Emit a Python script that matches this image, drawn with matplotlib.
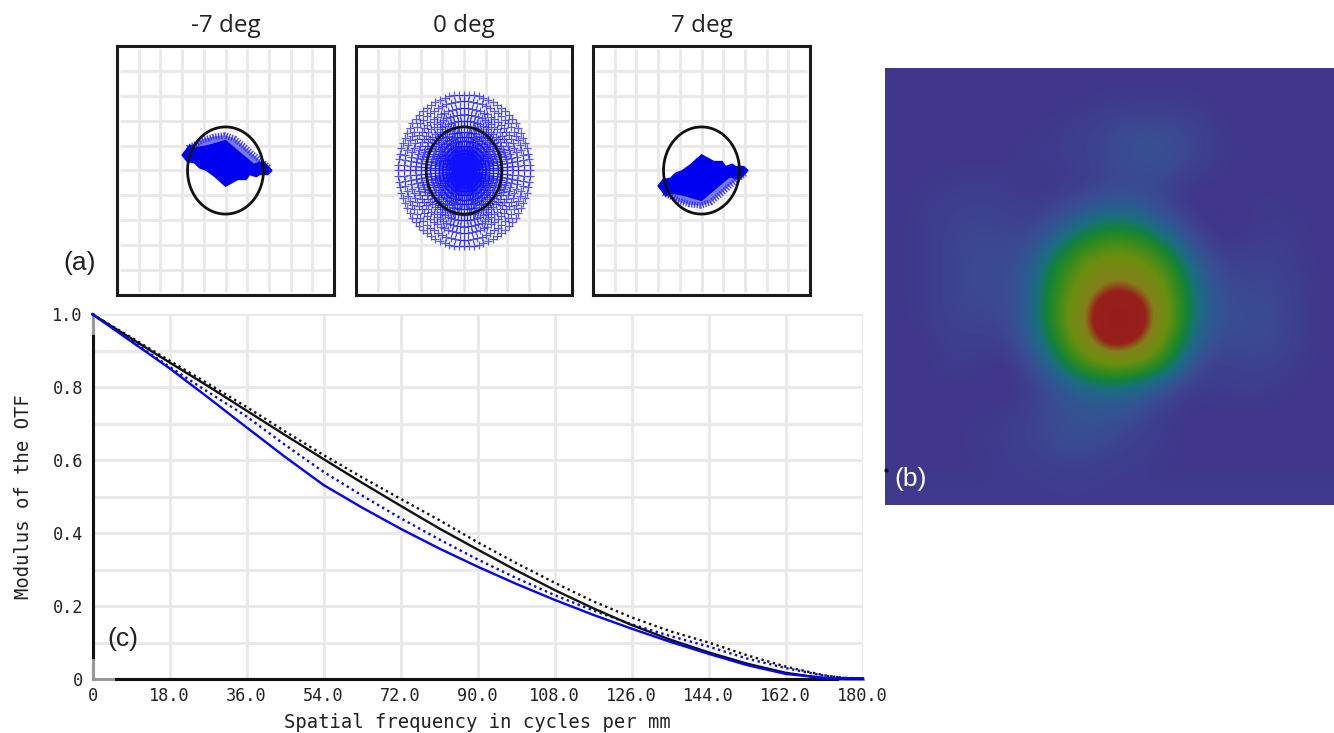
import numpy as np
import matplotlib
matplotlib.use("Agg")
import matplotlib.pyplot as plt
from matplotlib.colors import LinearSegmentedColormap

W, H = 1334, 733

# spot diagrams, units are grid cells
panel_titles = ["-7 deg", "0 deg", "7 deg"]
panel_boxes = [(117, 46, 334, 295), (356, 46, 572, 295), (593, 46, 810, 295)]
panel_flip = [1, 1, -1]
grid_pos = [-4, -3, -2, -1, 0, 1, 2, 3, 4]
airy_radius = 1.75
blob_x = [-2.0, -1.65, -1.41, -0.8, 0, 0.65, 1.3, 1.75, 2.14, 1.95, 1.57, 1.42, 1.11, 0.95, 0.57, 0, -0.51, -0.89, -1.2, -1.43, -1.78]
blob_y = [0.62, 1.02, 0.9, 1.0, 1.2, 0.72, 0.25, 0.36, 0, -0.16, -0.16, -0.25, -0.16, -0.36, -0.36, -0.63, -0.23, 0.01, 0.11, 0.31, 0.37]
halo_x = [-1.65, -1.41, -1.03, -0.57, -0.03, 0.43, 0.81, 1.27, 1.73, 1.3, 0.65, 0, -0.8, -1.41]
halo_y = [1.02, 1.1, 1.26, 1.37, 1.42, 1.28, 1.0, 0.64, 0.31, 0.25, 0.72, 1.2, 1.0, 0.9]
comb_outer_x = [-1.75, -1.41, -1.03, -0.57, -0.03, 0.43, 0.81, 1.27, 1.73, 2.0]
comb_outer_y = [0.9, 1.04, 1.22, 1.35, 1.41, 1.27, 1.0, 0.64, 0.31, 0.12]
ring_radii = [3.05, 2.78, 2.5, 2.25, 2.0, 1.78, 1.56, 1.36, 1.18, 1.0, 0.84, 0.7, 0.56, 0.43, 0.3, 0.18, 0.08]
ring_spokes = 84

# MTF curves
freq = [0, 9, 18, 27, 36, 45, 54, 63, 72, 81, 90, 99, 108, 117, 126, 135, 144, 153, 162, 171, 176, 180]
black_dotted = [1, 0.937, 0.873, 0.81, 0.746, 0.679, 0.614, 0.553, 0.494, 0.436, 0.375, 0.318, 0.264, 0.213, 0.169, 0.131, 0.1, 0.065, 0.034, 0.01, 0.002, 0]
black_solid = [1, 0.934, 0.868, 0.803, 0.736, 0.669, 0.603, 0.538, 0.475, 0.413, 0.355, 0.298, 0.244, 0.194, 0.148, 0.108, 0.073, 0.042, 0.017, 0.002, 0, 0]
blue_dotted = [1, 0.928, 0.856, 0.787, 0.72, 0.642, 0.568, 0.503, 0.441, 0.383, 0.328, 0.277, 0.23, 0.188, 0.15, 0.118, 0.089, 0.056, 0.03, 0.009, 0.003, 0.002]
blue_solid = [1, 0.926, 0.852, 0.772, 0.69, 0.609, 0.532, 0.47, 0.412, 0.358, 0.308, 0.261, 0.217, 0.176, 0.138, 0.102, 0.069, 0.038, 0.014, 0.003, 0.002, 0.002]
x_ticks = [0, 18, 36, 54, 72, 90, 108, 126, 144, 162, 180]
x_labels = ["0", "18.0", "36.0", "54.0", "72.0", "90.0", "108.0", "126.0", "144.0", "162.0", "180.0"]
y_ticks = [0, 0.2, 0.4, 0.6, 0.8, 1.0]
y_labels = ["0", "0.2", "0.4", "0.6", "0.8", "1.0"]

# intensity map, rough values
intensity = [
    [.02, .02, .02, .02, .02, .02, .02, .02, .02, .02, .02, .02, .02, .02, .02, .02, .02],
    [.02, .02, .02, .02, .02, .02, .02, .02, .03, .03, .03, .03, .02, .02, .02, .02, .02],
    [.02, .02, .02, .02, .02, .02, .03, .04, .06, .08, .08, .06, .03, .02, .02, .02, .02],
    [.02, .02, .02, .02, .02, .03, .03, .04, .06, .09, .09, .06, .03, .02, .02, .02, .02],
    [.02, .02, .03, .03, .03, .02, .02, .03, .05, .06, .05, .02, .02, .02, .02, .02, .02],
    [.02, .03, .04, .05, .04, .03, .05, .09, .13, .12, .06, .02, .01, .02, .03, .02, .02],
    [.02, .03, .05, .06, .06, .05, .13, .24, .32, .30, .18, .07, .01, .02, .03, .03, .02],
    [.02, .03, .05, .07, .06, .10, .26, .42, .50, .48, .36, .16, .05, .04, .05, .03, .02],
    [.02, .03, .05, .07, .06, .12, .32, .50, .68, .64, .48, .22, .08, .06, .06, .04, .02],
    [.02, .03, .05, .06, .06, .13, .34, .60, 1.0, .92, .52, .24, .09, .07, .07, .04, .02],
    [.02, .02, .04, .04, .04, .11, .30, .56, .88, .80, .47, .20, .07, .07, .07, .04, .02],
    [.02, .02, .03, .03, .01, .06, .18, .36, .46, .42, .30, .10, .03, .05, .05, .03, .02],
    [.02, .02, .02, .02, .01, .03, .08, .13, .16, .14, .07, .02, .03, .03, .03, .02, .02],
    [.02, .02, .02, .02, .03, .04, .07, .09, .09, .06, .03, .02, .02, .02, .02, .02, .02],
    [.02, .02, .02, .03, .03, .05, .07, .08, .06, .04, .03, .02, .02, .02, .02, .02, .02],
    [.02, .02, .02, .02, .03, .03, .04, .04, .03, .03, .02, .02, .02, .02, .02, .02, .02],
    [.03, .03, .03, .03, .03, .03, .03, .03, .03, .03, .03, .03, .03, .03, .03, .03, .03],
]
map_colors = [(0, "#43308a"), (.07, "#3a4c92"), (.12, "#2a5c90"), (.18, "#1a6f80"), (.25, "#128040"),
              (.32, "#2c8a20"), (.45, "#6b8f10"), (.62, "#84801a"), (.72, "#96201a"), (.9, "#961c1c"), (1, "#8f3c3c")]


def axes_px(x0, y0, x1, y1):
    return fig.add_axes([x0 / W, 1 - y1 / H, (x1 - x0) / W, (y1 - y0) / H])


fig = plt.figure(figsize=(W / 100, H / 100), dpi=100)

# (a) spot diagrams
for i, box in enumerate(panel_boxes):
    ax = axes_px(*box)
    ax.set_xlim(-5, 5)
    ax.set_ylim(-5, 5)
    ax.set_xticks([])
    ax.set_yticks([])
    for s in ax.spines.values():
        s.set_linewidth(2.2)
        s.set_color("#1a1a1a")
    ax.vlines(grid_pos, -4.87, 4.87, color="#e8e8e8", lw=2, zorder=1)
    ax.hlines(grid_pos, -4.85, 4.85, color="#e8e8e8", lw=2, zorder=1)
    if i == 1:
        spoke_angles = np.linspace(0, 2 * np.pi, ring_spokes, endpoint=False)
        for r in ring_radii:
            ax.scatter(r * np.cos(spoke_angles), r * np.sin(spoke_angles), marker="+", s=26,
                       linewidths=0.9, color="#1010ff", alpha=0.7, zorder=2)
    else:
        f = panel_flip[i]
        ax.fill(halo_x, [f * v for v in halo_y], color="#7a7aff", lw=0, zorder=2)
        ax.plot(comb_outer_x, [f * v for v in comb_outer_y], color="#2020ff", lw=4.5, ls=(0, (0.22, 0.22)),
                alpha=0.85, zorder=2)
        ax.fill(blob_x, [f * v for v in blob_y], color="#0000f0", lw=1, zorder=3)
    t = np.linspace(0, 2 * np.pi, 200)
    ax.plot(airy_radius * np.cos(t), airy_radius * np.sin(t), color="#111111", lw=2, zorder=4)
    fig.text((box[0] + box[2]) / 2 / W, 1 - 26 / H, panel_titles[i], family="Open Sans", fontsize=17.5,
             color="#222222", ha="center", va="center")

# (b) intensity map
ax = axes_px(885, 68, 1334, 505)
cmap = LinearSegmentedColormap.from_list("psf", map_colors)
ax.imshow(intensity, cmap=cmap, vmin=0, vmax=1, aspect="auto", interpolation="bicubic",
          interpolation_stage="data")
ax.plot(0.002, 0.08, transform=ax.transAxes, marker="o", ms=2, color="#111111", clip_on=False)
ax.axis("off")

# (c) MTF
ax = axes_px(92.5, 314.3, 862.7, 679)
ax.set_xlim(0, 180)
ax.set_ylim(0, 1)
for s in ax.spines.values():
    s.set_visible(False)
ax.plot(freq, blue_dotted, color="#0000ff", lw=1.7, ls=(0, (1, 1.5)), clip_on=False, zorder=3)
ax.plot(freq, black_dotted, color="#111111", lw=1.7, ls=(0, (1, 1.5)), clip_on=False, zorder=3)
ax.plot(freq, black_solid, color="#111111", lw=1.7, clip_on=False, zorder=4)
ax.plot(freq, blue_solid, color="#0000ff", lw=1.7, clip_on=False, zorder=5)
ax.plot([0, 0], [0, 1], color="#999999", lw=2.2, clip_on=False, zorder=2)
ax.plot([0, 0], [0.06, 0.94], color="#111111", lw=2.2, clip_on=False, zorder=2)
ax.plot([0, 180], [0, 0], color="#999999", lw=2.2, clip_on=False, zorder=2)
ax.plot([5.5, 174], [0, 0], color="#111111", lw=2.2, clip_on=False, zorder=2)
ax.set_xticks(x_ticks, x_labels, family="DejaVu Sans Mono", fontsize=12.2, color="#222222")
ax.set_yticks(y_ticks, y_labels, family="DejaVu Sans Mono", fontsize=12.2, color="#222222")
ax.set_yticks(np.arange(0.1, 1, 0.2), minor=True)
ax.set_axisbelow(True)
ax.grid(True, which="both", color="#e8e8e8", lw=2)
ax.tick_params(which="both", length=0)
ax.tick_params(axis="x", pad=6)
ax.tick_params(axis="y", pad=7)
fig.text(477 / W, 1 - 722 / H, "Spatial frequency in cycles per mm", family="DejaVu Sans Mono", fontsize=13.6,
         color="#222222", ha="center", va="center")
fig.text(24 / W, 1 - 497 / H, "Modulus of the OTF", family="DejaVu Sans Mono", fontsize=13.6, color="#222222",
         rotation=90, ha="center", va="center")

# panel letters
fig.text(80 / W, 1 - 263 / H, "(a)", family="Liberation Sans", fontsize=19, color="#222222", ha="center", va="center")
fig.text(123 / W, 1 - 639 / H, "(c)", family="Liberation Sans", fontsize=19, color="#222222", ha="center", va="center")
fig.text(911 / W, 1 - 479 / H, "(b)", family="Liberation Sans", fontsize=19, color="white", ha="center", va="center")

fig.savefig("out.png", dpi=100)
